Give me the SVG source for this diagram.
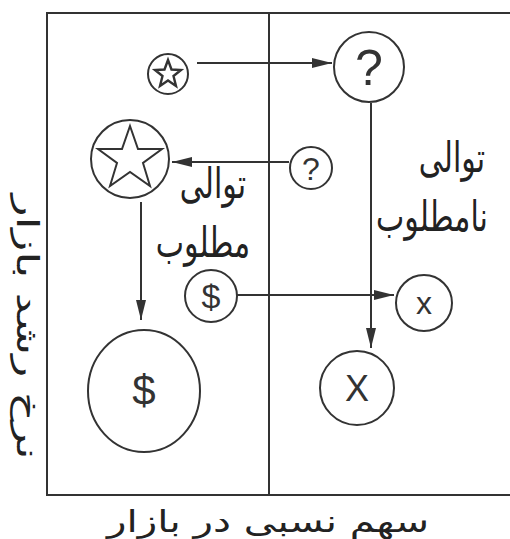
<svg xmlns="http://www.w3.org/2000/svg" width="510" height="539" viewBox="0 0 510 539">
<style>
.ln{stroke:#333;stroke-width:2;fill:none}
.st{stroke:#333;stroke-width:2.4;fill:none;stroke-linejoin:miter}
.nd{stroke:#333;stroke-width:2;fill:#fff}
.sym{font-family:"Liberation Sans",Arial,sans-serif;fill:#333;text-anchor:middle}
.fa{font-family:"DejaVu Sans",sans-serif;fill:#222;text-anchor:middle}
</style>
<defs>
<marker id="ah" viewBox="0 0 20 10" refX="20" refY="5" markerWidth="20" markerHeight="10" markerUnits="userSpaceOnUse" orient="auto">
<path d="M0,0 L20,5 L0,10 Z" fill="#333"/>
</marker>
</defs>
<rect width="510" height="539" fill="#fff"/>
<g id="frame">
<path class="ln" d="M510,13 H47 V495 H510"/>
<path class="ln" d="M269,13 V495"/>
</g>
<g id="connectors">
<path class="ln" d="M197,63 H332" marker-end="url(#ah)"/>
<path class="ln" d="M371,103 V348" marker-end="url(#ah)"/>
<path class="ln" d="M289,162 H172" marker-end="url(#ah)"/>
<path class="ln" d="M141,202 V320" marker-end="url(#ah)"/>
<path class="ln" d="M237,295 H394" marker-end="url(#ah)"/>
</g>
<g id="star-small">
<circle class="nd" cx="168" cy="74" r="20" stroke-width="2.5"/>
<polygon class="st" points="168,60 171.5,69.5 181,70 173.5,76 176,86 168,80.5 160,86 162.5,76 155,70 164.5,69.5"/>
</g>
<g id="question-big">
<circle class="nd" cx="369" cy="67" r="35"/>
<text class="sym" x="369" y="85" font-size="50">?</text>
</g>
<g id="star-big">
<circle class="nd" cx="130" cy="159" r="39"/>
<polygon class="ln" points="130,126 138,149 162,149 143,163 150,186 130,172 110,186 117,163 98,149 122,149"/>
</g>
<g id="question-small">
<circle class="nd" cx="311" cy="168" r="21"/>
<text class="sym" x="311" y="180" font-size="32">?</text>
</g>
<g id="dollar-small">
<circle class="nd" cx="211" cy="296" r="26"/>
<text class="sym" x="211" y="308" font-size="34">$</text>
</g>
<g id="x-small">
<circle class="nd" cx="424" cy="303" r="28"/>
<text class="sym" x="424" y="314" font-size="32">x</text>
</g>
<g id="dollar-big">
<ellipse class="nd" cx="144" cy="391" rx="56" ry="61"/>
<text class="sym" x="144" y="405" font-size="42">$</text>
</g>
<g id="x-big">
<circle class="nd" cx="357" cy="388" r="37"/>
<text class="sym" x="357" y="401" font-size="36">X</text>
</g>
<g id="labels">
<text class="fa" transform="translate(452,172) scale(1,1.4)" font-size="30">توالی</text>
<text class="fa" transform="translate(432,231) scale(1,1.4)" font-size="30">نامطلوب</text>
<text class="fa" transform="translate(213,198) scale(1,1.4)" font-size="30">توالی</text>
<text class="fa" transform="translate(203,257) scale(1,1.4)" font-size="30">مطلوب</text>
<text class="fa" x="268" y="532" font-size="30" textLength="322" lengthAdjust="spacingAndGlyphs">سهم نسبی در بازار</text>
<text class="fa" transform="translate(17,327) rotate(90)" x="0" y="0" font-size="30" textLength="265" lengthAdjust="spacingAndGlyphs">نرخ رشد بازار</text>
</g>
</svg>
